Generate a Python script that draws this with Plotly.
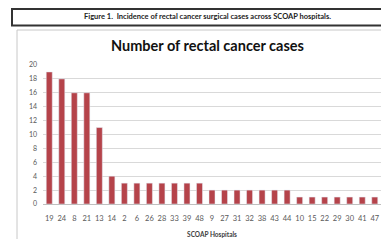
import plotly.graph_objects as go

hospitals = ["19", "24", "8", "21", "13", "14", "2", "6", "26", "28", "33", "39", "48",
             "9", "27", "31", "32", "38", "43", "44", "10", "15", "22", "29", "30", "41", "47"]
cases = [19, 18, 16, 16, 11, 4, 3, 3, 3, 3, 3, 3, 3,
         2, 2, 2, 2, 2, 2, 2, 1, 1, 1, 1, 1, 1, 1]

# page body has an 8px margin; work in window pixels and convert
OFF = 8
W, H = 389 - 2 * OFF, 247 - 2 * OFF
L, R, T = 43 - OFF, 0, 65 - OFF
B = H - (204 - OFF)
pw, ph = W - L - R, H - T - B

def px(x):
    return (x - OFF - L) / pw

def py(y):
    return (H - B - (y - OFF)) / ph

fig = go.Figure(go.Bar(x=hospitals, y=cases, marker_color="#b5434a", width=0.48))

fig.update_layout(
    width=W, height=H,
    margin=dict(l=L, r=R, t=T, b=B, autoexpand=False),
    paper_bgcolor="white", plot_bgcolor="white",
    showlegend=False,
    font=dict(family="Lato", color="#595959"),
    xaxis=dict(type="category", tickfont=dict(size=7.5, color="#595959"),
               automargin=False, ticklabelstandoff=7,
               showline=True, linecolor="#bfbfbf", linewidth=1,
               ticks="", showgrid=False,
               title=dict(text="<b>SCOAP Hospitals</b>", font=dict(size=6.5, color="#404040"),
                          standoff=10)),
    yaxis=dict(range=[0, 20], dtick=2, tickfont=dict(size=7, color="#595959"),
               automargin=False,
               gridcolor="#d9d9d9", gridwidth=1, zeroline=False, showline=False,
               ticks="", ticklabelstandoff=5),
    shapes=[
        dict(type="rect", xref="paper", yref="paper",
             x0=px(17), x1=px(400), y0=py(30), y1=py(260),
             line=dict(color="#c8c8c8", width=1), layer="below"),
        dict(type="rect", xref="paper", yref="paper",
             x0=px(12), x1=px(400), y0=py(9), y1=py(25.5),
             line=dict(color="#333333", width=2), fillcolor="white"),
    ],
    annotations=[
        dict(text="<b>Figure 1.  Incidence of rectal cancer surgical cases across SCOAP hospitals.</b>",
             xref="paper", yref="paper", x=px(207), y=py(17), showarrow=False,
             font=dict(size=7.5, color="#222222"), xanchor="center", yanchor="middle"),
        dict(text="<b>Number of rectal cancer cases</b>",
             xref="paper", yref="paper", x=px(207), y=py(46), showarrow=False,
             font=dict(size=14.5, color="#111111"), xanchor="center", yanchor="middle"),
    ],
)

fig.write_html("out.html")
